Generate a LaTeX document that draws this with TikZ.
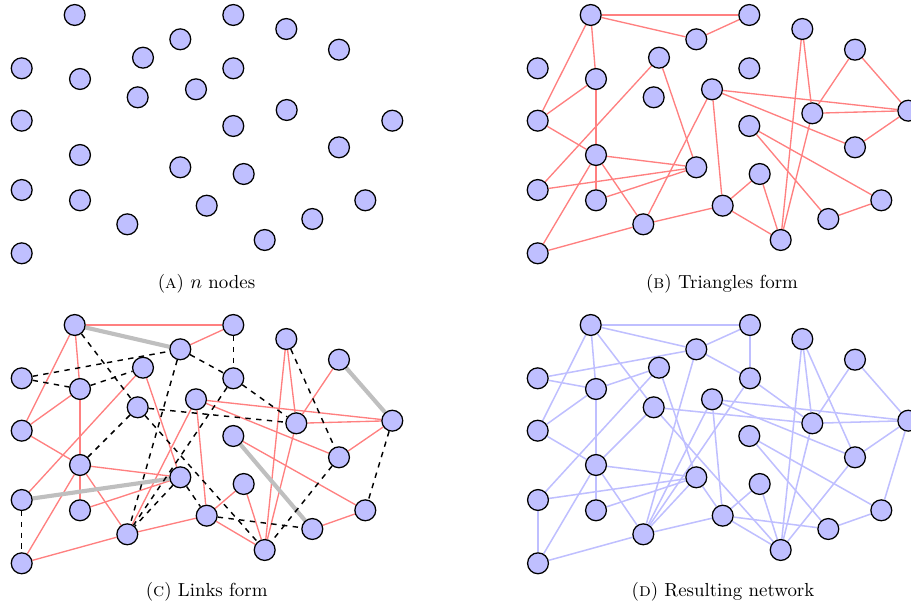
\documentclass[tikz,border=0pt]{standalone}
\pgfdeclarelayer{edges}
\pgfsetlayers{edges,main}
\begin{document}
\begin{tikzpicture}[x=0.556pt,y=-0.556pt,
  vtx/.style={circle, draw=black, fill=blue!25, minimum size=11.6pt, inner sep=0pt, line width=0.7pt},
  redge/.style={red!50, line width=0.75pt},
  dedge/.style={black, dashed, line width=0.8pt},
  gedge/.style={gray!50, line width=2.3pt},
  bedge/.style={blue!25, line width=0.85pt},
  captxt/.style={anchor=base, inner sep=0pt, font=\fontsize{10.5}{12}\selectfont}]
\useasboundingbox (0,0) rectangle (911,605);
\def\nodesA{1/74.7/15, 2/233.3/15, 3/286.3/29, 4/180.3/39.3, 5/339/49.7, 6/143/57.7, 7/21.7/68.3, 8/233.3/68.3, 9/80/79, 10/196/89.3, 11/137.7/97.3, 12/286.7/110, 13/21.7/120.7, 14/392.3/120.7, 15/233.3/126, 16/339/147.3, 17/80/155, 18/180.3/167.3, 19/243.7/174, 20/21.7/190, 21/80/200.3, 22/365.3/200.3, 23/206.7/205.7, 24/127.3/224.3, 25/312.3/219, 26/264.7/240, 27/21.7/253.3}
\def\nodesB{1/74.7/15, 2/233.3/15, 3/286.3/29, 4/180.3/39.3, 5/339/49.7, 6/143/57.7, 7/21.7/68.3, 8/233.3/68.3, 9/80/79, 10/196/89.3, 11/137.7/97.3, 12/296.3/113.3, 13/21.7/120.7, 14/392.3/110.7, 15/233.3/126, 16/339/147.3, 17/80/155, 18/180.3/167.3, 19/243.7/174, 20/21.7/190, 21/80/200.3, 22/365.3/200.3, 23/206.7/205.7, 24/127.3/224.3, 25/312.3/219, 26/264.7/240, 27/21.7/253.3}
\def\nodesD{1/74.7/15, 2/234/15, 3/286.3/29, 4/180.3/39.3, 5/339/49.7, 6/143/57.7, 7/21.7/68.3, 8/234/68.3, 9/80/79, 10/196/89.3, 11/137.7/97.3, 12/296.3/113.3, 13/21.7/120.7, 14/392.3/110.7, 15/233.3/126, 16/339/147.3, 17/80/155, 18/180.3/167.3, 19/243.7/174, 20/22/190, 21/80/200.3, 22/365.3/200.3, 23/206.7/205.7, 24/127.3/224.3, 25/312.3/219, 26/264.7/240, 27/22/253.3}
\def\rededges{1/2, 4/2, 1/13, 1/9, 9/13, 9/17, 13/17, 6/20, 6/18, 17/18, 21/18, 17/21, 17/24, 17/27, 27/24, 24/10, 24/23, 10/23, 10/14, 10/16, 14/16, 12/14, 5/12, 3/12, 3/26, 12/26, 23/19, 19/26, 23/26, 15/22, 25/22}
\def\grayedges{1/4, 5/14, 20/18, 15/25}
\def\dashedges{1/11, 7/4, 7/9, 9/6, 2/8, 4/8, 4/24, 8/12, 8/24, 11/12, 11/17, 11/26, 18/23, 18/24, 3/16, 14/22, 16/26, 20/27, 23/25}
% panel A
\begin{scope}
  \foreach \i/\x/\y in \nodesA {\node[vtx] (a\i) at (\x,\y) {};}
\end{scope}
\node[captxt] (capa) at (206.5,288) {(\textsc{a}) $n$ nodes};
% panel B
\begin{scope}[shift={(516,0)}]
  \foreach \i/\x/\y in \nodesB {\node[vtx] (b\i) at (\x,\y) {};}
\end{scope}
\begin{pgfonlayer}{edges}
  \foreach \u/\v in \rededges {\draw[redge] (b\u) -- (b\v);}
  \foreach \u/\v in \grayedges {\draw[redge] (b\u) -- (b\v);}
\end{pgfonlayer}
\node[captxt] (capb) at (722,288) {(\textsc{b}) Triangles form};
% panel C
\begin{scope}[shift={(0,310)}]
  \foreach \i/\x/\y in \nodesB {\node[vtx] (c\i) at (\x,\y) {};}
\end{scope}
\begin{pgfonlayer}{edges}
  \foreach \u/\v in \rededges {\draw[redge] (c\u) -- (c\v);}
  \foreach \u/\v in \grayedges {\draw[gedge] (c\u) -- (c\v);}
  \foreach \u/\v in \dashedges {\draw[dedge] (c\u) -- (c\v);}
\end{pgfonlayer}
\node[captxt] (capc) at (206.7,596) {(\textsc{c}) Links form};
% panel D
\begin{scope}[shift={(516,310)}]
  \foreach \i/\x/\y in \nodesD {\node[vtx] (d\i) at (\x,\y) {};}
\end{scope}
\begin{pgfonlayer}{edges}
  \foreach \u/\v in \rededges {\draw[bedge] (d\u) -- (d\v);}
  \foreach \u/\v in \grayedges {\draw[bedge] (d\u) -- (d\v);}
  \foreach \u/\v in \dashedges {\draw[bedge] (d\u) -- (d\v);}
\end{pgfonlayer}
\node[captxt] (capd) at (723,596) {(\textsc{d}) Resulting network};
\end{tikzpicture}
\end{document}
